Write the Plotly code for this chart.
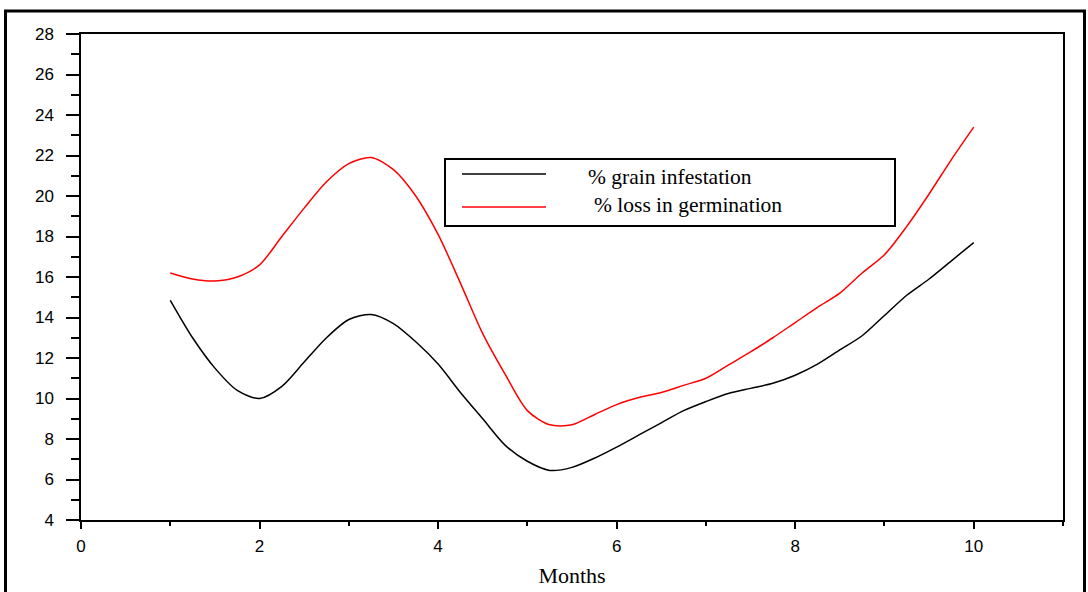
import plotly.graph_objects as go

months = [1.00, 1.25, 1.50, 1.75, 2.00, 2.25, 2.50, 2.75, 3.00, 3.25, 3.50, 3.75,
          4.00, 4.25, 4.50, 4.75, 5.00, 5.25, 5.50, 5.75, 6.00, 6.25, 6.50, 6.75,
          7.00, 7.25, 7.50, 7.75, 8.00, 8.25, 8.50, 8.75, 9.00, 9.25, 9.50, 9.75, 10.00]

grain_infestation = [14.85, 13.0, 11.5, 10.4, 10.0, 10.6, 11.8, 13.0, 13.9, 14.15, 13.7, 12.8,
                     11.7, 10.3, 9.0, 7.7, 6.9, 6.45, 6.6, 7.05, 7.6, 8.2, 8.8, 9.4,
                     9.85, 10.25, 10.5, 10.75, 11.15, 11.7, 12.4, 13.1, 14.1, 15.1, 15.9, 16.8, 17.7]

loss_germination = [16.2, 15.9, 15.8, 16.0, 16.6, 18.0, 19.4, 20.7, 21.6, 21.9, 21.3, 20.0,
                    18.1, 15.7, 13.2, 11.2, 9.4, 8.7, 8.7, 9.2, 9.7, 10.05, 10.3, 10.65,
                    11.0, 11.65, 12.3, 13.0, 13.75, 14.5, 15.2, 16.2, 17.1, 18.5, 20.1, 21.8, 23.4]

names = ["% grain infestation", "% loss in germination"]
colors = ["#000000", "#ff0000"]
series = [grain_infestation, loss_germination]

W, H = 1088, 592
L, R, T, B = 81, 25, 34, 72
pw, ph = W - L - R, H - T - B

def px(x):
    return (x - L) / pw

def py(y):
    return (H - B - y) / ph

fig = go.Figure()
for name, color, vals in zip(names, colors, series):
    fig.add_trace(go.Scatter(x=months, y=vals, mode="lines", name=name, showlegend=False,
                             line=dict(color=color, width=1.5, shape="spline", smoothing=0.8)))

# outer frame
border = dict(color="black", width=3)
fig.add_shape(type="line", xref="paper", yref="paper", x0=px(5.5), x1=px(5.5), y0=py(11), y1=py(600), line=border)
fig.add_shape(type="line", xref="paper", yref="paper", x0=px(4), x1=px(1086), y0=py(11), y1=py(11), line=border)
fig.add_shape(type="line", xref="paper", yref="paper", x0=px(1084.5), x1=px(1084.5), y0=py(11), y1=py(600), line=border)

# legend box (drawn manually to match the original layout)
fig.add_shape(type="rect", xref="paper", yref="paper", x0=px(445), x1=px(895), y0=py(159), y1=py(226),
              line=dict(color="black", width=2), fillcolor="white", layer="above")
legend_rows = [(174, 586, 177), (207, 592, 205)]
for (ly, tx, ty), name, color in zip(legend_rows, names, colors):
    fig.add_shape(type="line", xref="paper", yref="paper", x0=px(462), x1=px(546), y0=py(ly), y1=py(ly),
                  line=dict(color=color, width=1.5), layer="above")
    fig.add_annotation(xref="paper", yref="paper", x=px(tx), y=py(ty), text=name, showarrow=False,
                       xanchor="left", yanchor="middle",
                       font=dict(family="Liberation Serif, Times New Roman", size=21.5, color="black"))

axis_font = dict(family="Liberation Sans, Arial", size=17, color="black")

fig.update_layout(
    width=W, height=H,
    margin=dict(l=L, r=R, t=T, b=B, pad=0),
    paper_bgcolor="white", plot_bgcolor="white",
    showlegend=False,
    xaxis=dict(range=[0, 11], tickmode="linear", tick0=0, dtick=2, automargin=False,
               showline=True, linecolor="black", linewidth=1.5, mirror=True,
               ticks="outside", ticklen=7, tickwidth=1.5, tickcolor="black",
               showgrid=False, zeroline=False, tickfont=axis_font, ticklabelstandoff=3,
               minor=dict(dtick=1, tick0=0, ticks="outside", ticklen=4, tickwidth=1.5,
                          tickcolor="black", showgrid=False),
               title=dict(text="Months", font=dict(family="Liberation Serif, Times New Roman", size=22, color="black"),
                          standoff=12)),
    yaxis=dict(range=[4, 28], tickmode="linear", tick0=4, dtick=2, automargin=False,
               showline=True, linecolor="black", linewidth=1.5, mirror=True,
               ticks="outside", ticklen=13, tickwidth=1.5, tickcolor="black",
               showgrid=False, zeroline=False, tickfont=axis_font, ticklabelstandoff=9,
               minor=dict(dtick=1, tick0=4, ticks="outside", ticklen=8, tickwidth=1.5,
                          tickcolor="black", showgrid=False)),
)

fig.write_html("out.html")
